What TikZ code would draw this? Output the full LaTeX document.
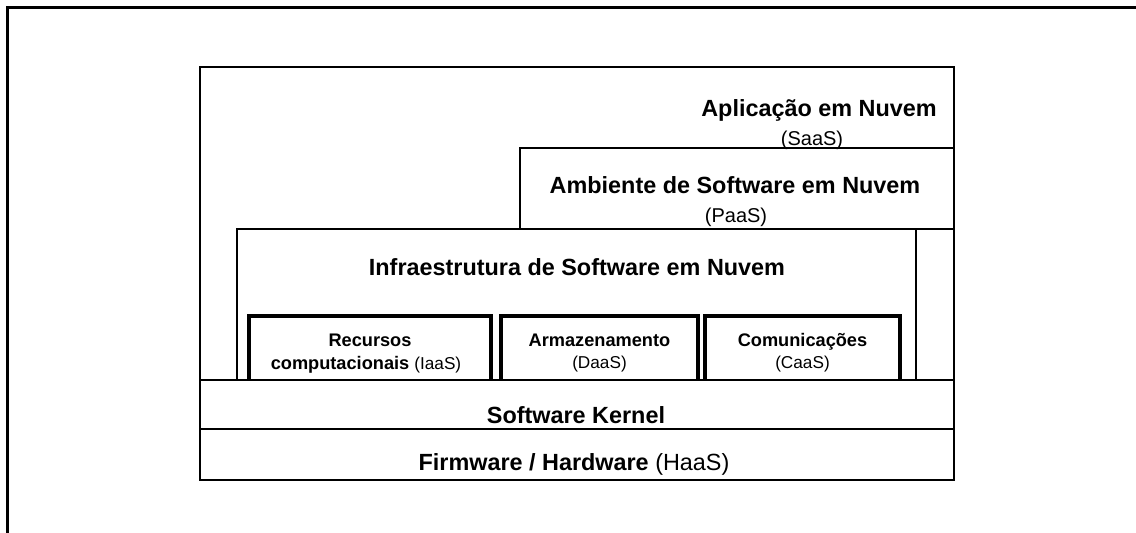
\documentclass[tikz,border=0pt]{standalone}
\usepackage{fontspec}
\setmainfont{Liberation Sans}
\newcommand{\fBigB}{\fontsize{11.7}{14}\selectfont\bfseries}
\newcommand{\fBigR}{\fontsize{11.7}{14}\selectfont\mdseries}
\newcommand{\fMidR}{\fontsize{10}{12}\selectfont\mdseries}
\newcommand{\fSmB}{\fontsize{9.1}{11}\selectfont\bfseries}
\newcommand{\fSmR}{\fontsize{8.6}{10}\selectfont\mdseries}
\tikzset{
  layer/.style={draw=black, line width=1.4pt, fill=white},
  subbox/.style={draw=black, line width=1.6pt, fill=white},
  lbl/.style={inner sep=0pt, anchor=base},
}
\begin{document}
\begin{tikzpicture}[x=0.5pt, y=-0.5pt]
\useasboundingbox (0,0) rectangle (1136,532);
% outer frame (open on right and bottom)
\draw[line width=1.4pt] (7.5,536) -- (7.5,7.5) -- (1137,7.5);
% SaaS box
\draw[layer] (200,67) rectangle (954,480);
% PaaS box
\draw[layer] (520,148) rectangle (954,229);
% IaaS box
\draw[layer] (237,229) rectangle (916,380);
% sub boxes
\draw[subbox] (249,380) -- (249,316) -- (491,316) -- (491,380);
\draw[subbox] (501,380) -- (501,316) -- (698,316) -- (698,380);
\draw[subbox] (705,380) -- (705,316) -- (900,316) -- (900,380);
% texts
\node[lbl] (app) at (819,116.5) {\fBigB Aplicação em Nuvem};
\node[lbl] (saas) at (812,145) {\fMidR (SaaS)};
\node[lbl] (amb) at (735,193.5) {\fBigB Ambiente de Software em Nuvem};
\node[lbl] (paas) at (736,222) {\fMidR (PaaS)};
\node[lbl] (infra) at (577,275.5) {\fBigB Infraestrutura de Software em Nuvem};
\node[lbl] (rec1) at (370,346) {\fSmB Recursos};
\node[lbl] (rec2) at (366,369) {\fSmB computacionais \fSmR(IaaS)};
\node[lbl] (arm1) at (599.5,346) {\fSmB Armazenamento};
\node[lbl] (arm2) at (599.5,368) {\fSmR (DaaS)};
\node[lbl] (com1) at (802.5,346) {\fSmB Comunicações};
\node[lbl] (com2) at (802.5,368) {\fSmR (CaaS)};
% kernel and hardware
\draw[layer] (200,380) rectangle (954,429);
\draw[layer] (200,429) rectangle (954,480);
\node[lbl] (kern) at (576,423) {\fBigB Software Kernel};
\node[lbl] (hw) at (574,470) {\fBigB Firmware / Hardware \fBigR(HaaS)};
\end{tikzpicture}
\end{document}
